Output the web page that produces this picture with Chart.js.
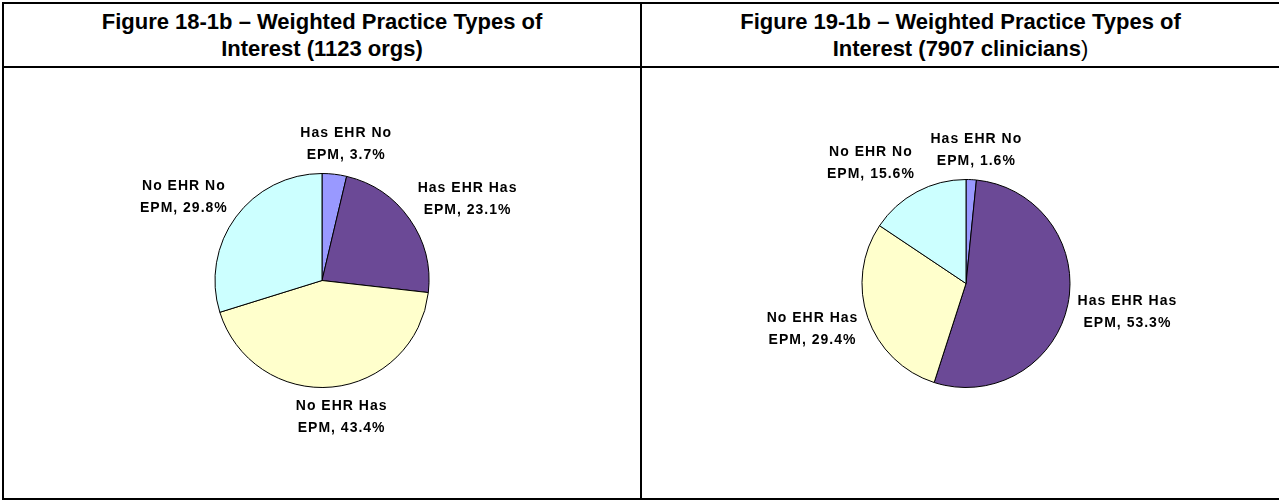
<!DOCTYPE html>
<html>
<head>
<meta charset="utf-8">
<script src="https://cdn.jsdelivr.net/npm/chart.js@4/dist/chart.umd.min.js"></script>
<style>
    body { margin: 0; background: #fff; font-family: "Liberation Sans", Arial, sans-serif; }
    #frame { position: absolute; left: 2px; top: 2px; width: 1275px; height: 494px; border: 2px solid #000; }
    .head { position: absolute; top: 0; height: 62px; display: flex; align-items: center; justify-content: center;
            text-align: center; font-weight: bold; font-size: 22px; line-height: 27px; color: #000; border-bottom: 2px solid #000; }
    .cell { position: absolute; top: 64px; }
    #vline { position: absolute; left: 636px; top: 0; width: 2px; height: 494px; background: #000; }
    .thin { font-weight: normal; }
</style>
</head>
<body>
<div id="frame">
    <div class="head" style="left:0;width:636px"><div>Figure 18-1b – Weighted Practice Types of<br>Interest (1123 orgs)</div></div>
    <div class="head" style="left:638px;width:637px"><div>Figure 19-1b – Weighted Practice Types of<br>Interest (7907 clinicians<span class="thin">)</span></div></div>
    <div id="vline"></div>
    <div class="cell" style="left:0"><canvas id="graficoOrgs" width="636" height="430"></canvas></div>
    <div class="cell" style="left:638px"><canvas id="graficoClin" width="637" height="430"></canvas></div>
</div>
<script>
// dados
const categorias = ['Has EHR No EPM', 'Has EHR Has EPM', 'No EHR Has EPM', 'No EHR No EPM'];
const orgs = [3.7, 23.1, 43.4, 29.8];
const clinicos = [1.6, 53.3, 29.4, 15.6];
const cores = ['#9999FF', '#6B4996', '#FFFFCC', '#CCFFFF'];

// rótulos fora da pizza, duas linhas
const rotulos = {
    id: 'rotulos',
    afterDatasetsDraw(chart) {
        const ctx = chart.ctx;
        const valores = chart.data.datasets[0].data;
        const lim = v => Math.max(-1, Math.min(1, v));
        ctx.save();
        ctx.font = 'bold 14px "Liberation Sans", Arial, sans-serif';
        ctx.letterSpacing = '1px';
        ctx.fillStyle = '#000';
        ctx.textAlign = 'center';
        ctx.textBaseline = 'middle';
        chart.getDatasetMeta(0).data.forEach((arc, i) => {
            const nome = chart.data.labels[i];
            const corte = nome.lastIndexOf(' ');
            const l1 = nome.slice(0, corte);
            const l2 = nome.slice(corte + 1) + ', ' + valores[i].toFixed(1) + '%';
            const w = Math.max(ctx.measureText(l1).width, ctx.measureText(l2).width);
            const h = 40;
            const meio = (arc.startAngle + arc.endAngle) / 2;
            const c = Math.cos(meio), s = Math.sin(meio);
            const r = arc.outerRadius + 10;
            const cx = arc.x + r * c + lim(2 * c) * w / 2;
            const cy = arc.y + r * s + lim(1.2 * s) * h / 2;
            ctx.fillText(l1, cx, cy - 11);
            ctx.fillText(l2, cx, cy + 11);
        });
        ctx.restore();
    }
};

function pizza(id, valores, padding) {
    return new Chart(document.getElementById(id), {
        type: 'pie',
        data: {
            labels: categorias,
            datasets: [{
                data: valores,
                backgroundColor: cores,
                borderColor: '#000',
                borderWidth: 1
            }]
        },
        options: {
            responsive: false,
            animation: false,
            layout: { padding: padding },
            plugins: { legend: { display: false }, tooltip: { enabled: false } }
        },
        plugins: [rotulos]
    });
}

pizza('graficoOrgs', orgs, { top: 105, bottom: 110, left: 0, right: 0 });
pizza('graficoClin', clinicos, { top: 111, bottom: 110, left: 11, right: 0 });
</script>
</body>
</html>
